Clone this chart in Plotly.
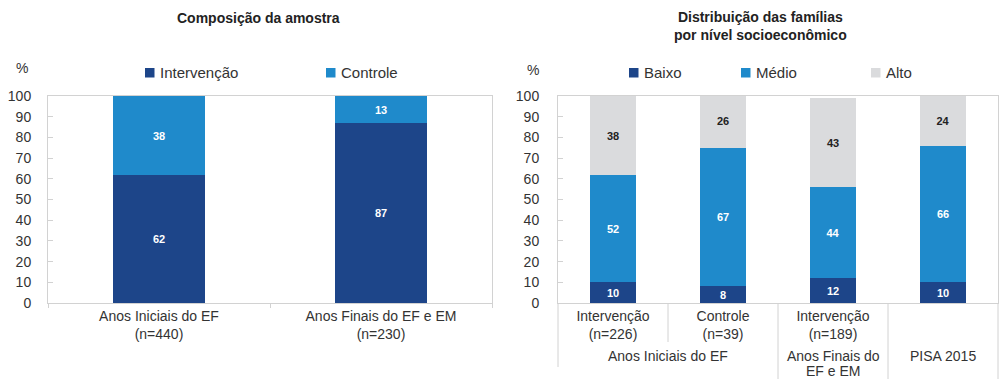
import plotly.graph_objects as go

# ---- data -------------------------------------------------------------
amostra_categorias = ["Anos Iniciais do EF<br>(n=440)", "Anos Finais do EF e EM<br>(n=230)"]
amostra_intervencao = [62, 87]
amostra_controle = [38, 13]

nse_grupos = ["Anos Iniciais do EF", "Anos Iniciais do EF", "Anos Finais do<br>EF e EM", "PISA 2015"]
nse_subgrupos = ["Intervenção<br>(n=226)", "Controle<br>(n=39)", "Intervenção<br>(n=189)", ""]
nse_baixo = [10, 8, 12, 10]
nse_medio = [52, 67, 44, 66]
nse_alto = [38, 26, 43, 24]

y_ticks = list(range(0, 101, 10))

# ---- style ------------------------------------------------------------
W, H = 1000, 379
FONT = "Liberation Sans, Arial, Helvetica, sans-serif"
TXT = "#333333"
LINE = "#d2d2d2"
AZUL_ESC = "#1d4589"
AZUL = "#1f8acb"
CINZA = "#dadbdd"


def fx(p):
    return p / W


def fy(p):
    return 1 - p / H


fig = go.Figure()

val_font = dict(family=FONT, size=11, weight="bold")

# left panel: sample composition
for nome, vals, cor, tcor in [
    ("Intervenção", amostra_intervencao, AZUL_ESC, "white"),
    ("Controle", amostra_controle, AZUL, "white"),
]:
    fig.add_trace(go.Bar(
        x=amostra_categorias, y=vals, name=nome, marker=dict(color=cor, line=dict(width=0)),
        width=0.41, text=vals, texttemplate="%{text}", textposition="inside",
        insidetextanchor="middle", textangle=0, insidetextfont=dict(val_font, color=tcor),
        xaxis="x", yaxis="y", showlegend=False, hoverinfo="skip",
    ))

# right panel: socioeconomic level
pos = list(range(len(nse_subgrupos)))
for nome, vals, cor, tcor in [
    ("Baixo", nse_baixo, AZUL_ESC, "white"),
    ("Médio", nse_medio, AZUL, "white"),
    ("Alto", nse_alto, CINZA, "#222222"),
]:
    fig.add_trace(go.Bar(
        x=pos, y=vals, name=nome, marker=dict(color=cor, line=dict(width=0)),
        width=0.41, text=vals, texttemplate="%{text}", textposition="inside",
        insidetextanchor="middle", textangle=0, insidetextfont=dict(val_font, color=tcor),
        xaxis="x2", yaxis="y2", showlegend=False, hoverinfo="skip",
    ))

y_dom = [fy(303), fy(96)]
yax = dict(
    range=[0, 100], tickvals=y_ticks, ticks="inside", ticklen=5, tickcolor=LINE,
    showline=True, linecolor=LINE, linewidth=1, mirror=True, showgrid=False,
    zeroline=False, tickfont=dict(family=FONT, size=14, color=TXT),
    ticklabelstandoff=13, fixedrange=True, automargin=False,
)

fig.update_layout(
    template="none",
    width=W, height=H, margin=dict(l=0, r=0, t=0, b=0, pad=0, autoexpand=False),
    paper_bgcolor="white", plot_bgcolor="white",
    barmode="stack", bargap=0, font=dict(family=FONT, size=14, color=TXT),
    uniformtext=dict(minsize=11, mode="show"),
    xaxis=dict(
        domain=[fx(48), fx(492)], type="category", range=[-0.5, 1.5],
        showline=True, linecolor=LINE, mirror=True, ticks="outside", tickson="boundaries",
        ticklen=4, tickcolor=LINE, showgrid=False, automargin=False,
        tickfont=dict(family=FONT, size=14, color=TXT), anchor="y",
    ),
    yaxis=dict(yax, domain=y_dom, anchor="x"),
    xaxis2=dict(
        domain=[fx(558), fx(998)], range=[-0.5, len(pos) - 0.5],
        tickvals=pos, ticktext=nse_subgrupos, ticks="", showline=True, linecolor=LINE,
        mirror=True, showgrid=False, zeroline=False, automargin=False,
        tickfont=dict(family=FONT, size=14, color=TXT), anchor="y2",
    ),
    yaxis2=dict(yax, domain=y_dom, anchor="x2", ticklabelstandoff=15),
)

ann = []
shapes = []

# titles
ann.append(dict(x=fx(258), y=fy(17.5), text="<b>Composição da amostra</b>",
                font=dict(size=14, color="#222222")))
ann.append(dict(x=fx(760), y=fy(26), text="<b>Distribuição das famílias<br>por nível socioeconômico</b>",
                font=dict(size=14, color="#222222")))

# unit labels
ann.append(dict(x=fx(22), y=fy(68), text="%", font=dict(size=14, color=TXT)))
ann.append(dict(x=fx(533), y=fy(70), text="%", font=dict(size=14, color=TXT)))

# legends drawn as swatch + label
leg_items = [
    ("Intervenção", AZUL_ESC, 145), ("Controle", AZUL, 326),
    ("Baixo", AZUL_ESC, 629), ("Médio", AZUL, 741), ("Alto", CINZA, 871),
]
for nome, cor, x0 in leg_items:
    shapes.append(dict(type="rect", xref="paper", yref="paper",
                       x0=fx(x0), x1=fx(x0 + 9.5), y0=fy(77.5), y1=fy(68),
                       fillcolor=cor, line=dict(width=0)))
    ann.append(dict(x=fx(x0 + 12.5), y=fy(73), text=nome, xanchor="left",
                    font=dict(size=15, color=TXT)))

# group labels under the right panel (one annotation per line, tight leading)
vistos = []
for g in nse_grupos:
    if g not in vistos:
        vistos.append(g)
for g in vistos:
    idx = [i for i, gg in enumerate(nse_grupos) if gg == g]
    centro = (idx[0] + idx[-1]) / 2
    for k, linha in enumerate(g.split("<br>")):
        ann.append(dict(x=centro, xref="x2", y=fy(356 + 15 * k), yref="paper", text=linha,
                        borderpad=0, font=dict(size=14, color=TXT)))

# dividers for the right panel category axis
n = len(nse_subgrupos)
for b in range(n + 1):
    if b == 0:
        y_end = 367
    elif b == n or nse_grupos[b - 1] != nse_grupos[b]:
        y_end = 379
    else:
        y_end = 342
    shapes.append(dict(type="line", xref="x2 domain", yref="paper",
                       x0=b / n, x1=b / n, y0=fy(303), y1=fy(y_end),
                       line=dict(color=LINE, width=1)))

for a in ann:
    a.setdefault("xref", "paper")
    a.setdefault("yref", "paper")
    a.setdefault("xanchor", "center")
    a.setdefault("yanchor", "middle")
    a["showarrow"] = False

fig.update_layout(annotations=ann, shapes=shapes)

fig.write_html("out.html")
